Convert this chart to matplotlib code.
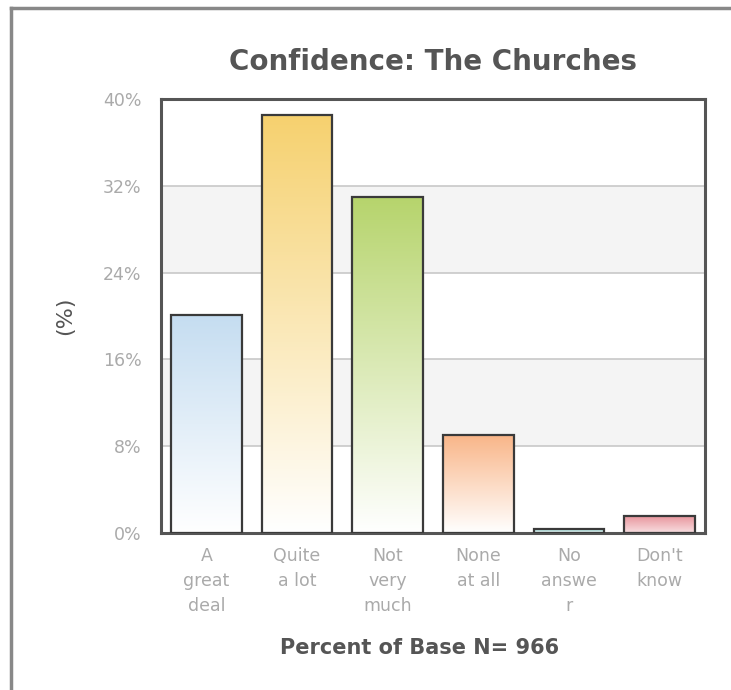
#!/usr/bin/env python
# -*- coding: utf-8 -*-

"""Confidence: The Churches -- bar chart with gradient bars."""

import numpy as np
import matplotlib
matplotlib.use('Agg')
import matplotlib.pyplot as plt
from matplotlib.colors import LinearSegmentedColormap
from matplotlib.lines import Line2D


categories = ['A\ngreat\ndeal', 'Quite\na lot', 'Not\nvery\nmuch',
              'None\nat all', 'No\nanswe\nr', "Don't\nknow"]
percents = [20.1, 38.5, 31.0, 9.0, 0.4, 1.6]
bar_colors = ['#c5ddf1', '#f6d16f', '#b6d46c', '#f9b689', '#7ccfcb', '#e8929a']
bar_bottoms = ['#ffffff', '#ffffff', '#ffffff', '#ffffff', '#ffffff', '#f8dfe1']
yticks = [0, 8, 16, 24, 32, 40]


def main():
    fig = plt.figure(figsize=(7.31, 6.90), dpi=100)
    ax = fig.add_axes([0.2202, 0.2275, 0.7442, 0.629])

    # alternating bands and grid
    ax.axhspan(8, 16, color='#f4f4f4', zorder=0, lw=0)
    ax.axhspan(24, 32, color='#f4f4f4', zorder=0, lw=0)
    for y in yticks[1:-1]:
        ax.axhline(y, color='#c8c8c8', lw=1.2, zorder=1)

    x = np.arange(len(categories))
    bars = ax.bar(x, percents, width=0.78, facecolor='none',
                  edgecolor='#3a3a3a', linewidth=1.6, zorder=3)

    # vertical gradient inside each bar, colour at top, pale at bottom
    grad = np.linspace(0, 1, 256).reshape(-1, 1)
    for rect, c, b in zip(bars, bar_colors, bar_bottoms):
        cmap = LinearSegmentedColormap.from_list('g', [b, c])
        x0 = rect.get_x()
        ax.imshow(grad, extent=[x0, x0 + rect.get_width(), 0, rect.get_height()],
                  origin='lower', aspect='auto', cmap=cmap, zorder=2)

    ax.set_xlim(-0.5, len(categories) - 0.5)
    ax.set_ylim(0, 40)
    ax.set_yticks(yticks)
    ax.set_yticklabels(['%d%%' % v for v in yticks])
    ax.set_xticks(x)
    ax.set_xticklabels(categories, linespacing=1.5)
    ax.tick_params(length=0, colors='#aaaaaa', labelsize=12.5)
    ax.tick_params(axis='y', pad=14)
    ax.tick_params(axis='x', pad=10)

    for s in ax.spines.values():
        s.set_color('#555555')
        s.set_linewidth(2.2)

    ax.set_title('Confidence: The Churches', fontsize=20, fontweight='bold',
                 color='#555555', pad=21)
    ax.set_ylabel('(%)', fontsize=16, color='#555555', labelpad=20)
    ax.set_xlabel('Percent of Base N= 966', fontsize=15, fontweight='bold',
                  color='#555555')
    ax.xaxis.set_label_coords(0.476, -0.242)

    # outer frame: left and top edges only
    fig.add_artist(Line2D([0.015, 0.015], [0, 0.988], color='#888888', lw=2.5,
                          transform=fig.transFigure))
    fig.add_artist(Line2D([0.015, 1.0], [0.988, 0.988], color='#888888', lw=2.5,
                          transform=fig.transFigure))

    fig.savefig('out.png', dpi=100)


if __name__ == '__main__':
    main()
